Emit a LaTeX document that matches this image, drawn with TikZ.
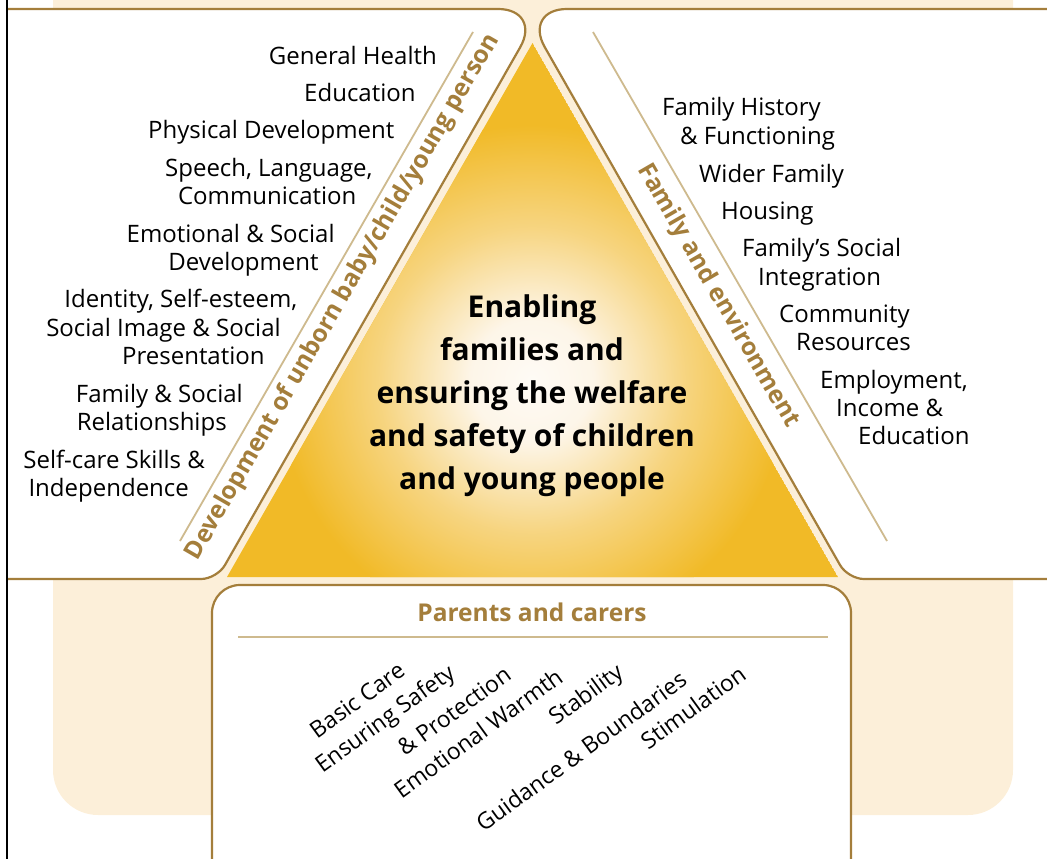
\documentclass[tikz,border=0pt]{standalone}
\usepackage{fontspec}
\setmainfont{Open Sans}
\definecolor{gold}{RGB}{241,186,39}
\definecolor{cream}{RGB}{252,239,217}
\definecolor{bronze}{RGB}{164,126,59}
\definecolor{tan}{RGB}{206,186,142}
\pgfdeclareradialshading{glow}{\pgfpoint{0bp}{0bp}}{color(0bp)=(white!75!cream); color(6bp)=(white!40!cream); color(15bp)=(cream!50!gold); color(25bp)=(gold); color(50bp)=(gold)}
\tikzset{
        % White panels with bronze rim
        panel/.style={fill=white, draw=bronze, line width=2.2pt},
        % Thin guide lines
        rule_line/.style={draw=tan, line width=1.8pt},
        % Listed items
        item/.style={inner sep=0pt, font=\fontsize{24}{28}\selectfont},
        item_left/.style={item, anchor=base east},
        item_right/.style={item, anchor=base west},
        item_care/.style={inner sep=0pt, rotate=36, font=\fontsize{23}{28}\selectfont},
        % Side headings
        side_label/.style={inner sep=0pt, text=bronze, font=\bfseries\fontsize{24.5}{28}\selectfont}
}
\begin{document}
\begin{tikzpicture}[x=1pt, y=-1pt]
    \useasboundingbox (0,0) rectangle (1047,859);
    \clip (0,0) rectangle (1047,859);
    % background
    \fill[cream, rounded corners=45pt] (53,-60) rectangle (1013,815);
    % panels
    \path[panel] (7,9) [rounded corners=44pt] -- (542,9) [rounded corners=16pt] -- (217,579) -- (7,579);
    \path[panel] (1050,9) [rounded corners=44pt] -- (523,9) [rounded corners=16pt] -- (848,579) -- (1050,579);
    \path[panel] (212,880) [rounded corners=28pt] -- (212,585) -- (851,585) -- (851,880);
    % triangle
    \begin{scope}
        \clip (227,577) -- (532.5,43) -- (838,577) -- cycle;
        \fill[gold] (227,577) -- (532.5,43) -- (838,577) -- cycle;
        \shade[shading=glow] (532,380) circle[radius=255];
    \end{scope}
    \draw[rule_line] (473,32) -- (180,541);
    \draw[rule_line] (593,32) -- (887,541);
    \draw[rule_line] (238,637) -- (828,637);
    \draw[line width=2pt] (7,0) -- (7,859);

    \node[font=\bfseries\fontsize{30}{43}\selectfont, align=center, inner sep=0pt] (aim) at (532,396)
        {Enabling\\families and\\ensuring the welfare\\and safety of children\\and young people};

    \node[side_label, rotate=60] (child) at (343,297) {Development of unborn baby/child/young person};
    \node[side_label, rotate=-60] (family) at (718,296) {Family and environment};
    \node[side_label] (parents) at (532,612) {Parents and carers};

    \foreach \y/\t [count=\i] in {64/General Health, 101/Education, 138/Physical Development,
            176/{Speech, Language,}, 204/Communication, 242/Emotional \& Social, 270/Development,
            307/{Identity, Self-esteem,}, 336/Social Image \& Social, 364/Presentation,
            402/Family \& Social, 430/Relationships, 468/Self-care Skills \&, 496/Independence}
        \node[item_left] (dev\i) at ({437-0.574*(\y-64)}, \y) {\t};

    \foreach \x/\y/\t [count=\i] in {662/115/Family History, 680/144/\& Functioning, 699/182/Wider Family,
            721/219/Housing, 742/256/Family’s Social, 758/285/Integration, 779/322/Community,
            796/350/Resources, 820/388/{Employment,}, 836/416/Income \&, 858/444/Education}
        \node[item_right] (env\i) at (\x,\y) {\t};

    \foreach \x/\y/\t [count=\i] in {357/700/Basic Care, 386/720/Ensuring Safety, 454/711/\& Protection,
            478/733/Emotional Warmth, 587/696/Stability, 581/751/Guidance \& Boundaries, 693/707/Stimulation}
        \node[item_care] (care\i) at (\x,\y) {\t};
\end{tikzpicture}
\end{document}
